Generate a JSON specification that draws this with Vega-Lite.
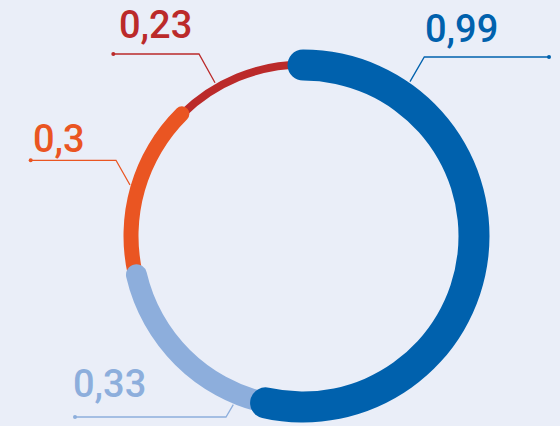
{
  "$schema": "https://vega.github.io/schema/vega-lite/v6.json",
  "width": 560,
  "height": 426,
  "autosize": {"type": "none"},
  "padding": 0,
  "background": "#EAEEF8",
  "config": {"view": {"stroke": null}},
  "datasets": {
    "seg": [
      {"cat": "a", "value": 0.99, "order": 1},
      {"cat": "b", "value": 0.33, "order": 2},
      {"cat": "c", "value": 0.3, "order": 3},
      {"cat": "d", "value": 0.23, "order": 4}
    ],
    "lines": [
      {"cat": "a", "pt": 1, "x": 107, "y": 154.3},
      {"cat": "a", "pt": 2, "x": 121.3, "y": 179},
      {"cat": "a", "pt": 3, "x": 246, "y": 179},
      {"cat": "b", "pt": 1, "x": -69.7, "y": -168.7},
      {"cat": "b", "pt": 2, "x": -77, "y": -181},
      {"cat": "b", "pt": 3, "x": -228, "y": -181},
      {"cat": "c", "pt": 1, "x": -173, "y": 51},
      {"cat": "c", "pt": 2, "x": -187, "y": 75.7},
      {"cat": "c", "pt": 3, "x": -272.3, "y": 75.7},
      {"cat": "d", "pt": 1, "x": -88, "y": 153.3},
      {"cat": "d", "pt": 2, "x": -104, "y": 182},
      {"cat": "d", "pt": 3, "x": -189.7, "y": 182}
    ],
    "labels": [
      {"cat": "a", "text": "0,99", "x": 122, "y": 194.3},
      {"cat": "b", "text": "0,33", "x": -230, "y": -160.7},
      {"cat": "c", "text": "0,3", "x": -270, "y": 83.7},
      {"cat": "d", "text": "0,23", "x": -184, "y": 198}
    ]
  },
  "layer": [
    {
      "data": {"name": "seg"},
      "transform": [
        {"stack": "value", "groupby": [], "sort": [{"field": "order"}], "as": ["v0", "v1"]},
        {"filter": "datum.cat == 'd'"}
      ],
      "mark": {"type": "arc", "outerRadius": 175.5, "innerRadius": 167.5, "cornerRadius": 4, "thetaOffset": -0.0233, "theta2Offset": 0.0233},
      "encoding": {
        "x": {"datum": 0, "type": "quantitative", "scale": {"domain": [-303, 257], "nice": false, "zero": false}, "axis": null},
        "y": {"datum": 0, "type": "quantitative", "scale": {"domain": [-190, 236], "nice": false, "zero": false}, "axis": null},
        "theta": {"field": "v0", "type": "quantitative", "scale": {"domain": [0, 1.85], "range": [0, 6.283185307]}},
        "theta2": {"field": "v1"},
        "color": {"field": "cat", "type": "nominal", "scale": {"domain": ["a", "b", "c", "d"], "range": ["#0061AD", "#8DAEDC", "#EA5522", "#BB2A2A"]}, "legend": null}
      }
    },
    {
      "data": {"name": "seg"},
      "transform": [
        {"stack": "value", "groupby": [], "sort": [{"field": "order"}], "as": ["v0", "v1"]},
        {"filter": "datum.cat == 'c'"}
      ],
      "mark": {"type": "arc", "outerRadius": 179.5, "innerRadius": 164.5, "cornerRadius": 7.5, "thetaOffset": -0.0436, "theta2Offset": 0.0436},
      "encoding": {
        "x": {"datum": 0, "type": "quantitative"},
        "y": {"datum": 0, "type": "quantitative"},
        "theta": {"field": "v0", "type": "quantitative", "scale": {"domain": [0, 1.85], "range": [0, 6.283185307]}},
        "theta2": {"field": "v1"},
        "color": {"field": "cat", "type": "nominal", "legend": null}
      }
    },
    {
      "data": {"name": "seg"},
      "transform": [
        {"stack": "value", "groupby": [], "sort": [{"field": "order"}], "as": ["v0", "v1"]},
        {"filter": "datum.cat == 'b'"}
      ],
      "mark": {"type": "arc", "outerRadius": 181.5, "innerRadius": 160.5, "cornerRadius": 10.5, "thetaOffset": -0.0614, "theta2Offset": 0.0614},
      "encoding": {
        "x": {"datum": 0, "type": "quantitative"},
        "y": {"datum": 0, "type": "quantitative"},
        "theta": {"field": "v0", "type": "quantitative", "scale": {"domain": [0, 1.85], "range": [0, 6.283185307]}},
        "theta2": {"field": "v1"},
        "color": {"field": "cat", "type": "nominal", "legend": null}
      }
    },
    {
      "data": {"name": "seg"},
      "transform": [
        {"stack": "value", "groupby": [], "sort": [{"field": "order"}], "as": ["v0", "v1"]},
        {"filter": "datum.cat == 'a'"}
      ],
      "mark": {"type": "arc", "outerRadius": 186.5, "innerRadius": 155.5, "cornerRadius": 15.5, "thetaOffset": -0.0906, "theta2Offset": 0.0906},
      "encoding": {
        "x": {"datum": 0, "type": "quantitative"},
        "y": {"datum": 0, "type": "quantitative"},
        "theta": {"field": "v0", "type": "quantitative", "scale": {"domain": [0, 1.85], "range": [0, 6.283185307]}},
        "theta2": {"field": "v1"},
        "color": {"field": "cat", "type": "nominal", "legend": null}
      }
    },
    {
      "data": {"name": "lines"},
      "mark": {"type": "line", "strokeWidth": 1.3, "interpolate": "linear"},
      "encoding": {
        "x": {"field": "x", "type": "quantitative"},
        "y": {"field": "y", "type": "quantitative"},
        "detail": {"field": "cat"},
        "order": {"field": "pt"},
        "color": {"field": "cat", "type": "nominal", "legend": null}
      }
    },
    {
      "data": {"name": "lines"},
      "transform": [{"filter": "datum.pt == 3"}],
      "mark": {"type": "point", "filled": true, "size": 16, "opacity": 1},
      "encoding": {
        "x": {"field": "x", "type": "quantitative"},
        "y": {"field": "y", "type": "quantitative"},
        "color": {"field": "cat", "type": "nominal", "legend": null}
      }
    },
    {
      "data": {"name": "labels"},
      "mark": {"type": "text", "align": "left", "baseline": "alphabetic", "font": "Roboto", "fontSize": 38, "fontWeight": 500},
      "encoding": {
        "x": {"field": "x", "type": "quantitative"},
        "y": {"field": "y", "type": "quantitative"},
        "text": {"field": "text"},
        "color": {"field": "cat", "type": "nominal", "legend": null}
      }
    }
  ]
}
